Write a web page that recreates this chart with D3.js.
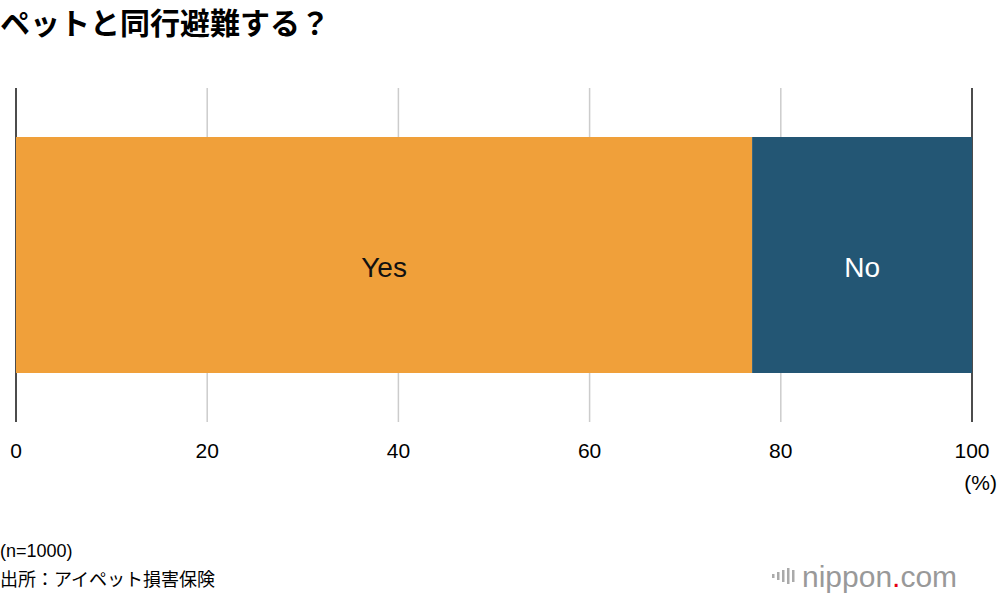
<!DOCTYPE html>
<html><head><meta charset="utf-8">
<script src="https://cdn.jsdelivr.net/npm/d3@7.9.0/dist/d3.min.js"></script>
<style>body{margin:0;background:#fff;font-family:"Noto Sans CJK JP","Noto Sans",sans-serif}</style>
</head><body>
<svg id="chart" width="1000" height="598"></svg>
<script>
const categories = ['Yes', 'No'];
const values = [77, 23];
const colors = ['#f0a03a', '#235674'];
const labelColors = ['#111', '#fff'];
const ticks = [0, 20, 40, 60, 80, 100];

const svg = d3.select('#chart');
const x = d3.scaleLinear().domain([0, 100]).range([16, 972]);
const latin = '"Liberation Sans", Arial, sans-serif';

svg.append('text').attr('x', 0).attr('y', 34)
  .attr('font-size', 30).attr('font-weight', 700).text('ペットと同行避難する？');

// grid
ticks.forEach(t => {
  svg.append('line').attr('x1', x(t)).attr('x2', x(t)).attr('y1', 88).attr('y2', 422)
    .attr('stroke', t === 0 || t === 100 ? '#111' : '#ccc').attr('stroke-width', 1.5);
  svg.append('text').attr('x', x(t)).attr('y', 458).attr('text-anchor', 'middle')
    .attr('font-size', 21).attr('font-family', latin).text(t);
});
svg.append('text').attr('x', 997).attr('y', 490).attr('text-anchor', 'end')
  .attr('font-size', 21).attr('font-family', latin).text('(%)');

// bars
let acc = 0;
categories.forEach((c, i) => {
  const x0 = acc, x1 = acc + values[i];
  acc = x1;
  svg.append('rect').attr('x', x(x0)).attr('y', 137).attr('width', x(x1) - x(x0)).attr('height', 236)
    .attr('fill', colors[i]);
  svg.append('text').attr('x', (x(x0) + x(x1)) / 2).attr('y', 277).attr('text-anchor', 'middle')
    .attr('font-size', 28).attr('font-family', latin).attr('fill', labelColors[i]).text(c);
});

svg.append('text').attr('x', 0).attr('y', 557).attr('font-size', 18).attr('font-family', latin).text('(n=1000)');
svg.append('text').attr('x', 0).attr('y', 586).attr('font-size', 18).text('出所：アイペット損害保険');

// logo
const lg = svg.append('g');
[4, 8, 12, 16, 12].forEach((h, i) => {
  lg.append('rect').attr('x', 772 + i * 5).attr('y', 576 - h / 2).attr('width', 2.5).attr('height', h).attr('fill', '#aaa');
});
const lt = lg.append('text').attr('x', 802).attr('y', 587).attr('font-size', 30)
  .attr('font-family', latin).attr('fill', '#999');
lt.append('tspan').text('nippon');
lt.append('tspan').attr('fill', '#e60012').text('.');
lt.append('tspan').text('com');
</script>
</body></html>
